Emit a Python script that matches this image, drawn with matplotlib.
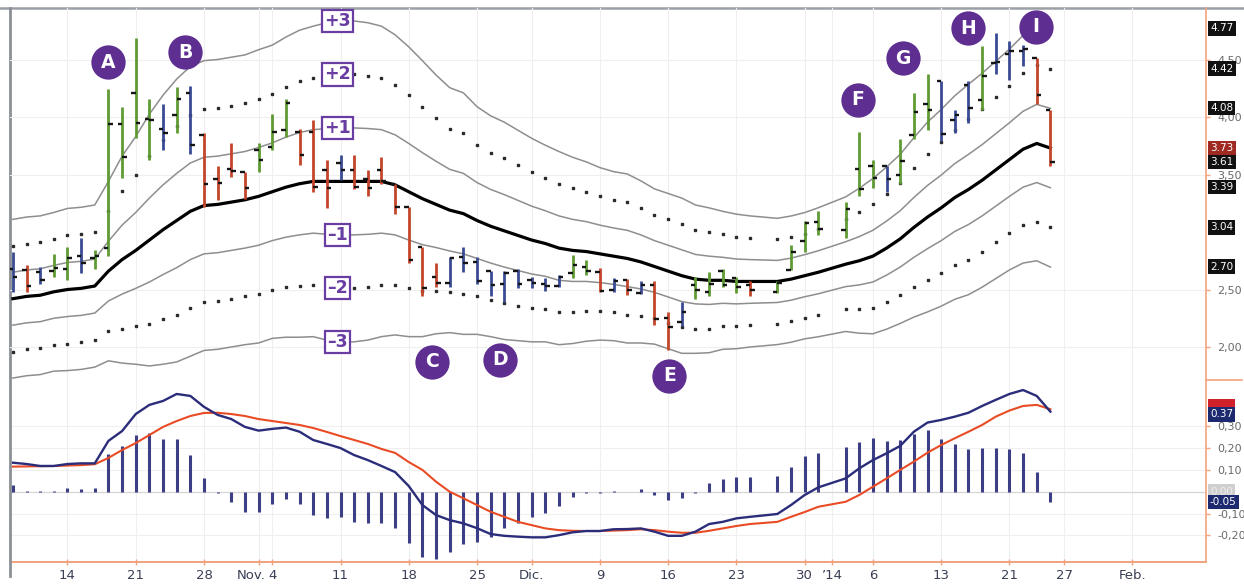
import matplotlib
matplotlib.use('Agg')
import matplotlib.pyplot as plt
import numpy as np
from matplotlib import font_manager
from matplotlib.lines import Line2D
from matplotlib.transforms import ScaledTranslation, blended_transform_factory

names = {f.name for f in font_manager.fontManager.ttflist}
COND = 'Liberation Sans Narrow' if 'Liberation Sans Narrow' in names else 'DejaVu Sans'

# ---------------- data ----------------
slots = list(range(-4, 51)) + [52, 53, 54, 55] + list(range(57, 73))

highs = [2.83, 2.71, 2.70, 2.81, 2.87, 2.95, 2.84, 4.24, 4.09, 4.69, 4.16, 4.11, 4.26, 4.27, 3.86,
         3.57, 3.77, 3.52, 3.77, 4.03, 4.16, 3.90, 3.97, 3.63, 3.67, 3.67, 3.54, 3.65, 3.42, 3.22,
         2.87, 2.73, 2.78, 2.87, 2.78, 2.66, 2.66, 2.68, 2.61, 2.60, 2.63, 2.80, 2.76, 2.69, 2.60,
         2.59, 2.57, 2.57, 2.30, 2.39, 2.61, 2.65, 2.68, 2.61, 2.57,
         2.57, 2.89, 3.10, 3.18,
         3.26, 3.87, 3.63, 3.57, 3.81, 4.21, 4.37, 4.31, 4.06, 4.31, 4.62, 4.73, 4.66, 4.63, 4.51, 4.06]
lows = [2.48, 2.48, 2.55, 2.61, 2.58, 2.64, 2.68, 2.79, 3.47, 3.82, 3.63, 3.71, 3.86, 3.68, 3.22,
        3.28, 3.48, 3.29, 3.52, 3.71, 3.83, 3.58, 3.35, 3.21, 3.45, 3.37, 3.31, 3.42, 3.16, 2.73,
        2.44, 2.52, 2.52, 2.65, 2.55, 2.44, 2.39, 2.51, 2.51, 2.49, 2.52, 2.60, 2.63, 2.48, 2.48,
        2.45, 2.46, 2.19, 1.97, 2.18, 2.42, 2.44, 2.52, 2.47, 2.44,
        2.47, 2.67, 2.83, 2.97,
        2.95, 3.31, 3.38, 3.35, 3.42, 3.81, 3.89, 3.79, 3.86, 3.95, 4.06, 4.37, 4.32, 4.44, 4.11, 3.57]
opens = [2.68, 2.67, 2.65, 2.66, 2.68, 2.79, 2.77, 2.86, 3.94, 4.21, 3.98, 3.90, 4.02, 4.21, 3.84,
         3.46, 3.55, 3.52, 3.71, 3.74, 3.89, 3.87, 3.87, 3.54, 3.60, 3.54, 3.46, 3.54, 3.42, 3.22,
         2.87, 2.61, 2.56, 2.78, 2.74, 2.66, 2.55, 2.66, 2.58, 2.55, 2.53, 2.64, 2.70, 2.65, 2.50,
         2.58, 2.47, 2.54, 2.25, 2.22, 2.54, 2.48, 2.66, 2.60, 2.54,
         2.48, 2.67, 2.92, 3.09,
         3.02, 3.55, 3.57, 3.57, 3.50, 3.84, 4.11, 4.31, 3.97, 4.28, 4.15, 4.47, 4.55, 4.57, 4.51, 4.06]
closes = [2.61, 2.53, 2.58, 2.69, 2.77, 2.73, 2.79, 3.94, 3.65, 3.95, 3.97, 3.86, 4.16, 3.76, 3.42,
          3.43, 3.53, 3.38, 3.63, 3.87, 4.12, 3.67, 3.39, 3.38, 3.54, 3.39, 3.38, 3.44, 3.22, 2.76,
          2.51, 2.56, 2.77, 2.73, 2.57, 2.54, 2.64, 2.55, 2.56, 2.53, 2.61, 2.71, 2.66, 2.49, 2.57,
          2.50, 2.54, 2.24, 2.17, 2.30, 2.50, 2.55, 2.54, 2.52, 2.50,
          2.56, 2.83, 3.08, 3.03,
          3.20, 3.37, 3.47, 3.46, 3.62, 4.04, 4.06, 3.85, 4.02, 4.08, 4.36, 4.48, 4.57, 4.59, 4.19, 3.61]
bar_colors = ("b r b g g b g g g g g b g b r r r r g g g r r r b r r r r r "
              "r r b b b b b b b b b g g r b r b r r b g g g g r "
              "g g g g "
              "g g g b g g g b b b g b b b r r").split()

ema = [2.42, 2.44, 2.45, 2.48, 2.50, 2.51, 2.53, 2.66, 2.76, 2.84, 2.93, 3.02, 3.10, 3.18, 3.23,
       3.24, 3.26, 3.28, 3.31, 3.35, 3.39, 3.42, 3.44, 3.44, 3.44, 3.44, 3.44, 3.44, 3.41, 3.35,
       3.29, 3.24, 3.19, 3.16, 3.10, 3.05, 3.01, 2.97, 2.93, 2.90, 2.86, 2.84, 2.83, 2.81, 2.79,
       2.77, 2.74, 2.70, 2.66, 2.62, 2.59, 2.58, 2.58, 2.57, 2.57,
       2.57, 2.59, 2.62, 2.65,
       2.72, 2.75, 2.79, 2.86, 2.94, 3.04, 3.13, 3.21, 3.30, 3.37, 3.45, 3.54, 3.63, 3.72, 3.77, 3.73]
atr = [0.23, 0.23, 0.23, 0.23, 0.235, 0.235, 0.235, 0.26, 0.30, 0.33, 0.365, 0.39, 0.41, 0.42, 0.42,
       0.42, 0.42, 0.42, 0.425, 0.425, 0.435, 0.445, 0.45, 0.46, 0.465, 0.465, 0.46, 0.45, 0.435, 0.42,
       0.40, 0.375, 0.355, 0.35, 0.33, 0.32, 0.315, 0.305, 0.295, 0.285, 0.28, 0.27, 0.26, 0.25, 0.245,
       0.245, 0.235, 0.225, 0.225, 0.225, 0.215, 0.21, 0.20, 0.195, 0.19,
       0.183, 0.183, 0.183, 0.187,
       0.195, 0.21, 0.225, 0.235, 0.245, 0.26, 0.275, 0.285, 0.295, 0.305, 0.31, 0.315, 0.32, 0.33, 0.34, 0.345]

macd = [0.133, 0.127, 0.118, 0.118, 0.127, 0.130, 0.130, 0.233, 0.278, 0.356, 0.398, 0.416, 0.448, 0.439, 0.389,
        0.352, 0.333, 0.297, 0.280, 0.288, 0.294, 0.275, 0.237, 0.219, 0.200, 0.168, 0.145, 0.118, 0.090, 0.026,
        -0.061, -0.107, -0.130, -0.145, -0.167, -0.194, -0.202, -0.206, -0.209, -0.209, -0.199, -0.186, -0.180, -0.180, -0.172,
        -0.171, -0.168, -0.183, -0.202, -0.202, -0.183, -0.148, -0.138, -0.122, -0.115,
        -0.102, -0.061, -0.015, 0.020,
        0.061, 0.107, 0.145, 0.176, 0.210, 0.275, 0.317, 0.329, 0.344, 0.362, 0.393, 0.421, 0.448, 0.466, 0.439, 0.367]
signal = [0.115, 0.116, 0.117, 0.118, 0.120, 0.122, 0.126, 0.155, 0.191, 0.223, 0.260, 0.297, 0.324, 0.347, 0.361,
          0.362, 0.356, 0.347, 0.333, 0.324, 0.315, 0.306, 0.292, 0.274, 0.255, 0.237, 0.219, 0.196, 0.178, 0.136,
          0.100, 0.046, 0.000, -0.030, -0.061, -0.092, -0.115, -0.138, -0.153, -0.168, -0.176, -0.179, -0.180, -0.180, -0.178,
          -0.176, -0.172, -0.176, -0.183, -0.188, -0.188, -0.179, -0.168, -0.157, -0.148,
          -0.138, -0.115, -0.093, -0.069,
          -0.046, -0.015, 0.023, 0.061, 0.100, 0.138, 0.179, 0.214, 0.245, 0.275, 0.306, 0.344, 0.372, 0.393, 0.398, 0.378]
hist = [0.031, 0.005, 0.003, 0.005, 0.015, 0.011, 0.018, 0.173, 0.209, 0.258, 0.271, 0.242, 0.242, 0.167, 0.061,
        -0.008, -0.046, -0.092, -0.092, -0.054, -0.035, -0.054, -0.107, -0.119, -0.115, -0.138, -0.142, -0.142, -0.164, -0.234,
        -0.298, -0.310, -0.275, -0.240, -0.229, -0.206, -0.168, -0.145, -0.118, -0.096, -0.066, -0.026, -0.005, -0.005, 0.005,
        -0.003, 0.011, -0.015, -0.038, -0.031, -0.005, 0.041, 0.060, 0.066, 0.066,
        0.072, 0.112, 0.164, 0.179,
        0.203, 0.226, 0.245, 0.234, 0.237, 0.265, 0.283, 0.240, 0.217, 0.194, 0.199, 0.199, 0.194, 0.176, 0.092, -0.046]

tick_pos = [0, 5, 10, 14, 15, 20, 25, 30, 34, 39, 44, 49, 54, 56, 59, 64, 69, 73, 78]
tick_labels = ['14', '21', '28', 'Nov.', '4', '11', '18', '25', 'Dic.', '9', '16', '23', '30',
               '\u201914', '6', '13', '21', '27', 'Feb.']

price_ticks = [2.00, 2.50, 3.50, 4.00, 4.50]
price_tick_labels = ['2,00', '2,50', '3,50', '4,00', '4,50']
price_boxes = [4.77, 4.42, 4.08, 3.73, 3.61, 3.39, 3.04, 2.70]
price_box_colors = ['#111111', '#111111', '#111111', '#9e2a22', '#111111', '#111111', '#111111', '#111111']

macd_ticks = [-0.20, -0.10, 0.10, 0.20, 0.30]
macd_tick_labels = ['-0,20', '-0,10', '0,10', '0,20', '0,30']
macd_boxes = [0.393, 0.355, 0.0, -0.048]
macd_box_texts = ['0.40', '0.37', '0.00', '-0.05']
macd_box_colors = ['#d0202a', '#1d2a70', '#cfcfcf', '#1d2a70']
macd_box_textcolors = ['#d0202a', 'white', '#eeeeee', 'white']

band_levels = [3, 2, 1, -1, -2, -3]
band_texts = ['+3', '+2', '+1', '\u20131', '\u20132', '\u20133']
band_label_slot = 19.8
band_label_ref = 24  # bar index (slot 20) used for label height

bubble_labels = ['A', 'B', 'C', 'D', 'E', 'F', 'G', 'H', 'I']
bubble_x = [2.97, 8.61, 26.7, 31.7, 44.1, 57.9, 61.2, 65.97, 70.95]
bubble_y = [4.478, 4.565, 1.870, 1.887, 1.748, 4.148, 4.513, 4.774, 4.783]

# ---------------- figure ----------------
W, H = 1244, 586
fig = plt.figure(figsize=(W / 100, H / 100), dpi=100)
fig.patch.set_facecolor('white')


def rect(x0, y0, x1, y1):
    return [x0 / W, 1 - y1 / H, (x1 - x0) / W, (y1 - y0) / H]


ax1 = fig.add_axes(rect(10, 8, 1206, 380))
ax2 = fig.add_axes(rect(10, 380, 1206, 562), sharex=ax1)
ax1.set_zorder(3)
ax2.set_zorder(1)
ax1.patch.set_alpha(0)

ax1.set_xlim(-4.21, 83.4)
ax1.set_ylim(1.713, 4.948)
ax2.set_ylim(-0.322, 0.512)

x = np.array(slots, dtype=float)
ema_a = np.array(ema)
atr_a = np.array(atr)

GRID = '#efefef'
ORANGE = '#f2a27e'
GRAYLINE = '#9aa0a6'

for ax in (ax1, ax2):
    for t in tick_pos:
        ax.axvline(t, color=GRID, lw=0.8, zorder=0)
for v in price_ticks:
    ax1.axhline(v, color=GRID, lw=0.8, zorder=0)
for v in macd_ticks:
    ax2.axhline(v, color=GRID, lw=0.8, zorder=0)

# bands
for k in (1, 3):
    ax1.plot(x, ema_a + k * atr_a, color='#8e8e8e', lw=1.1, zorder=2)
    ax1.plot(x, ema_a - k * atr_a, color='#8e8e8e', lw=1.1, zorder=2)
for k in (2, -2):
    ax1.plot(x, ema_a + k * atr_a, ls='none', marker='s', ms=1.7, color='#2a2a2a', zorder=2)
ax1.plot(x, ema_a, color='#000000', lw=2.3, zorder=2.5)

# price bars
cmap = {'g': '#5f9a33', 'r': '#c4452c', 'b': '#3a4b93'}
ax1.vlines(x, lows, highs, colors=[cmap[c] for c in bar_colors], lw=2.0, zorder=3)
ax1.hlines(opens, x - 0.33, x, colors='#151515', lw=1.7, zorder=4)
ax1.hlines(closes, x, x + 0.33, colors='#151515', lw=1.7, zorder=4)

# band labels
for lev, txt in zip(band_levels, band_texts):
    yv = ema[band_label_ref] + lev * atr[band_label_ref]
    ax1.text(band_label_slot, yv, txt, ha='center', va='center', fontsize=12.5, fontweight='bold',
             color='#6a3da3', zorder=8,
             bbox=dict(boxstyle='square,pad=0.12', fc='white', ec='#6a3da3', lw=1.6))

# bubbles
ax1.scatter(bubble_x, bubble_y, s=610, c='#5e2e91', clip_on=False, zorder=10, linewidths=0)
for lab, bx, by in zip(bubble_labels, bubble_x, bubble_y):
    ax1.text(bx, by, lab, ha='center', va='center', color='white', fontsize=13.5,
             fontweight='bold', clip_on=False, zorder=11)

# MACD panel
ax2.axhline(0, color='#d6d6d6', lw=0.9, zorder=1)
ax2.vlines(x, 0, hist, colors='#3c3e86', lw=2.2, zorder=2)
ax2.plot(x, signal, color='#e94c25', lw=1.5, zorder=3)
ax2.plot(x, macd, color='#2b2d7a', lw=1.7, zorder=4)

# spines
for ax in (ax1, ax2):
    for s in ('top', 'bottom', 'left', 'right'):
        ax.spines[s].set_visible(False)
    ax.spines['right'].set_visible(True)
    ax.spines['right'].set_color(ORANGE)
    ax.spines['right'].set_linewidth(1.2)
ax2.spines['bottom'].set_visible(True)
ax2.spines['bottom'].set_color(ORANGE)
ax2.spines['bottom'].set_linewidth(1.4)

# ticks
ax1.tick_params(axis='x', bottom=False, labelbottom=False)
ax1.yaxis.tick_right()
ax1.set_yticks(price_ticks)
ax1.set_yticklabels(price_tick_labels)
ax1.tick_params(axis='y', colors=ORANGE, length=3, width=1, labelcolor='#6a6a6a', labelsize=8, pad=5)
ax2.yaxis.tick_right()
ax2.set_yticks(macd_ticks)
ax2.set_yticklabels(macd_tick_labels)
ax2.tick_params(axis='y', colors=ORANGE, length=3, width=1, labelcolor='#6a6a6a', labelsize=8, pad=5)

ax2.set_xticks(tick_pos)
ax2.set_xticklabels(tick_labels, fontfamily=COND)
ax2.tick_params(axis='x', colors=ORANGE, length=4, width=1, direction='inout',
                labelcolor='#3a3f55', labelsize=9.5, pad=3)
for lbl in ax2.get_xticklabels():
    if lbl.get_text() == 'Nov.':
        lbl.set_horizontalalignment('right')
        lbl.set_transform(lbl.get_transform() + ScaledTranslation(7 / 100, 0, fig.dpi_scale_trans))

# right-side value boxes
tr1 = blended_transform_factory(ax1.transAxes, ax1.transData)
for v, c in zip(price_boxes, price_box_colors):
    ax1.text(1.0 + 4 / 1196, v, f'{v:.2f}', transform=tr1, ha='left', va='center', fontsize=7.5,
             color='white', clip_on=False, zorder=12,
             bbox=dict(boxstyle='square,pad=0.22', fc=c, ec='none'))
tr2 = blended_transform_factory(ax2.transAxes, ax2.transData)
for v, t, c, tc in zip(macd_boxes, macd_box_texts, macd_box_colors, macd_box_textcolors):
    ax2.text(1.0 + 4 / 1196, v, t, transform=tr2, ha='left', va='center', fontsize=7.5,
             color=tc, clip_on=False, zorder=12,
             bbox=dict(boxstyle='square,pad=0.22', fc=c, ec='none'))

# frame lines
fig.add_artist(Line2D([0, 1], [1 - 8 / H, 1 - 8 / H], color=GRAYLINE, lw=1.8))
fig.add_artist(Line2D([10 / W, 10 / W], [1 - 576 / H, 1 - 8 / H], color='#8a9096', lw=2.0))
fig.add_artist(Line2D([1206 / W, 1242 / W], [1 - 380 / H, 1 - 380 / H], color=ORANGE, lw=1.2))

fig.savefig('out.png', dpi=100)
